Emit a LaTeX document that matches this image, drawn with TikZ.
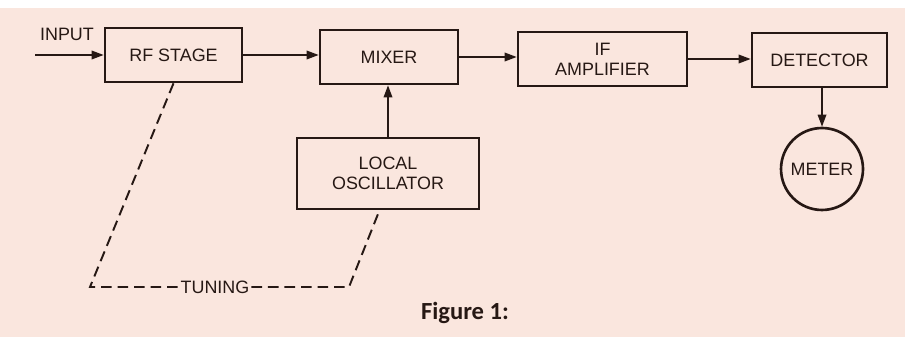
\documentclass[tikz,border=0pt]{standalone}
\usepackage{fontspec}
\setmainfont{Liberation Sans}
\newfontfamily\capfont{Carlito}
\usepackage{tikz}
\usetikzlibrary{arrows.meta, positioning}

\definecolor{paper}{RGB}{250,230,222}
\definecolor{ink}{RGB}{38,24,20}

\begin{document}
\begin{tikzpicture}[x=0.02cm, y=-0.02cm,
        block/.style={rectangle, draw=ink, line width=1.5pt, minimum height=1.08cm, align=center, text=ink, font=\fontsize{10.2}{11.2}\selectfont, inner sep=0pt},
        meterc/.style={circle, draw=ink, line width=1.5pt, minimum size=1.64cm, text=ink, font=\fontsize{10.2}{11.2}\selectfont, inner sep=0pt},
        sig/.style={draw=ink, line width=1pt, -{Triangle[length=0.24cm, width=0.17cm]}},
        tune/.style={draw=ink, line width=1.1pt, dash pattern=on 6pt off 3.4pt},
        lbl/.style={text=ink, font=\fontsize{10.2}{11.2}\selectfont, inner sep=1pt}
    ]
        % Paper
        \useasboundingbox (0,0) rectangle (905,337);
        \fill[white] (0,0) rectangle (905,337);
        \fill[paper] (0,8) rectangle (905,337);

        % Signal chain
        \node[block, minimum width=2.74cm] (rf) at (173.5,55) {RF STAGE};
        \node[block, minimum width=2.76cm] (mix) at (389,57) {MIXER};
        \node[block, minimum width=3.38cm] (ifa) at (602.5,59) {IF\\AMPLIFIER};
        \node[block, minimum width=2.70cm] (det) at (819.5,60) {DETECTOR};
        \node[meterc] (meter) at (822,169) {METER};

        % Oscillator
        \node[block, minimum width=3.64cm, minimum height=1.42cm] (lo) at (388,173.5) {LOCAL\\OSCILLATOR};

        % Input
        \coordinate (in) at (35,55);
        \node[lbl] (inlbl) at (67,34) {INPUT};

        \draw[sig] (in) -- (rf.west);
        \draw[sig] (rf.east) -- (rf.east -| mix.west);
        \draw[sig] (mix.east) -- (mix.east -| ifa.west);
        \draw[sig] (ifa.east) -- (ifa.east -| det.west);
        \draw[sig] (det.south -| meter.north) -- (meter.north);
        \draw[sig] (lo.north) -- (lo.north |- mix.south);

        % Tuning
        \node[lbl, fill=paper] (tuning) at (215,287) {TUNING};
        \coordinate (ta) at (90,287);
        \coordinate (tb) at (349,287);
        \coordinate (tc) at (380,209);
        \draw[tune] (rf.south) -- (ta) -- (tuning.west);
        \draw[tune] (tuning.east) -- (tb) -- (tc);

        % Caption
        \node[text=ink, font=\capfont\bfseries\fontsize{14}{16}\selectfont] (cap) at (465,313) {Figure 1:};
    \end{tikzpicture}
\end{document}
